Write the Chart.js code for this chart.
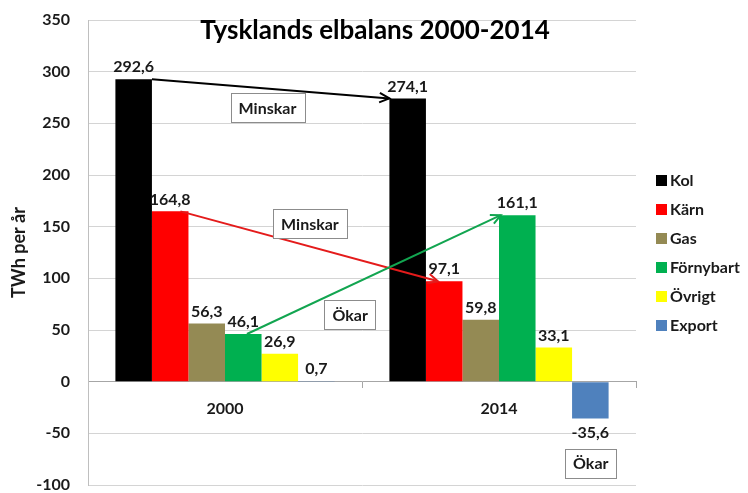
<!DOCTYPE html>
<html>
<head>
<meta charset="utf-8">
<script src="https://cdn.jsdelivr.net/npm/chart.js@4/dist/chart.umd.min.js"></script>
<style>
  html, body { margin: 0; padding: 0; background: #fff; }
  #wrap { width: 748px; height: 493px; }
</style>
</head>
<body>
<div id="wrap"><canvas id="elChart" width="748" height="493"></canvas></div>
<script>
// Data
const years = ['2000', '2014'];
const kol = [292.6, 274.1];
const karn = [164.8, 97.1];
const gas = [56.3, 59.8];
const fornybart = [46.1, 161.1];
const ovrigt = [26.9, 33.1];
const exportVals = [0.7, -35.6];
const seriesNames = ['Kol', 'Kärn', 'Gas', 'Förnybart', 'Övrigt', 'Export'];
const seriesColors = ['#000000', '#FF0000', '#948A54', '#00B050', '#FFFF00', '#4F81BD'];

// Arrows between the two years (dataset index, where on the bar top they start/end)
const arrows = [
    { ds: 0, color: '#000000', fromFrac: 1.0, toFrac: 0.0 },
    { ds: 1, color: '#E41B1B', fromFrac: 0.78, toFrac: 0.33 },
    { ds: 3, color: '#12A550', fromFrac: 0.6, toFrac: 0.05 },
];
// Text boxes (x in category index, y in TWh)
const notes = [
    { text: 'Minskar', x: 0.155, y: 265 },
    { text: 'Minskar', x: 0.31, y: 153 },
    { text: 'Ökar', x: 0.457, y: 65 },
    { text: 'Ökar', x: 1.335, y: -79 },
];

const FONT = 'Lato, "Open Sans", sans-serif';
const fmt = v => v.toFixed(1).replace('.', ',');

const overlay = {
    id: 'overlay',
    afterDatasetsDraw(chart) {
        const ctx = chart.ctx;
        const xs = chart.scales.x, ys = chart.scales.y;
        const ca = chart.chartArea;
        ctx.save();

        // value labels
        ctx.font = 'bold 16px ' + FONT;
        ctx.fillStyle = '#1a1a1a';
        ctx.textAlign = 'center';
        chart.data.datasets.forEach((ds, i) => {
            chart.getDatasetMeta(i).data.forEach((bar, j) => {
                const v = ds.data[j];
                if (v >= 0) {
                    ctx.textBaseline = 'bottom';
                    ctx.fillText(fmt(v), bar.x, bar.y - 4);
                } else {
                    ctx.textBaseline = 'top';
                    ctx.fillText(fmt(v), bar.x, bar.y + 6);
                }
            });
        });

        // arrows
        arrows.forEach(a => {
            const meta = chart.getDatasetMeta(a.ds);
            const b0 = meta.data[0], b1 = meta.data[1];
            const x0 = b0.x - b0.width / 2 + b0.width * a.fromFrac, y0 = b0.y;
            const x1 = b1.x - b1.width / 2 + b1.width * a.toFrac, y1 = b1.y;
            ctx.strokeStyle = a.color;
            ctx.lineWidth = 2;
            ctx.beginPath();
            ctx.moveTo(x0, y0);
            ctx.lineTo(x1, y1);
            ctx.stroke();
            const ang = Math.atan2(y1 - y0, x1 - x0);
            const h = 11;
            ctx.beginPath();
            ctx.moveTo(x1 - h * Math.cos(ang - 0.45), y1 - h * Math.sin(ang - 0.45));
            ctx.lineTo(x1, y1);
            ctx.lineTo(x1 - h * Math.cos(ang + 0.45), y1 - h * Math.sin(ang + 0.45));
            ctx.stroke();
        });

        // note boxes
        ctx.font = 'bold 16px ' + FONT;
        ctx.textBaseline = 'middle';
        notes.forEach(n => {
            const cx = xs.getPixelForValue(n.x), cy = ys.getPixelForValue(n.y);
            const w = ctx.measureText(n.text).width + 16, h = 29;
            ctx.fillStyle = '#ffffff';
            ctx.fillRect(cx - w / 2, cy - h / 2, w, h);
            ctx.strokeStyle = '#8c8c8c';
            ctx.lineWidth = 1;
            ctx.strokeRect(Math.round(cx - w / 2) + 0.5, Math.round(cy - h / 2) + 0.5, Math.round(w), h);
            ctx.fillStyle = '#1a1a1a';
            ctx.fillText(n.text, cx, cy + 1);
        });

        // legend on the right
        const mid = (ca.top + ca.bottom) / 2;
        const n = chart.data.datasets.length;
        ctx.textAlign = 'left';
        ctx.font = 'bold 16px ' + FONT;
        chart.data.datasets.forEach((ds, i) => {
            const y = mid + (i - (n - 1) / 2) * 29;
            ctx.fillStyle = ds.backgroundColor;
            ctx.fillRect(ca.right + 20, y - 5, 11, 11);
            ctx.fillStyle = '#1a1a1a';
            ctx.fillText(ds.label, ca.right + 34, y + 1);
        });

        // title over the plot
        ctx.textAlign = 'center';
        ctx.font = 'bold 26px ' + FONT;
        ctx.fillStyle = '#000000';
        ctx.fillText('Tysklands elbalans 2000-2014', 375, 31);
        ctx.restore();
    }
};

const allSeries = [kol, karn, gas, fornybart, ovrigt, exportVals];

new Chart(document.getElementById('elChart').getContext('2d'), {
    type: 'bar',
    data: {
        labels: years,
        datasets: allSeries.map((d, i) => ({
            label: seriesNames[i],
            data: d,
            backgroundColor: seriesColors[i],
            borderWidth: 0,
            categoryPercentage: 0.8,
            barPercentage: 1.0,
        }))
    },
    options: {
        responsive: false,
        animation: false,
        layout: { padding: { top: 20, bottom: 8, left: 4, right: 112 } },
        plugins: {
            legend: { display: false },
            tooltip: { enabled: false },
            title: { display: false }
        },
        scales: {
            x: {
                position: { y: 0 },
                grid: { display: true, drawOnChartArea: false, drawTicks: true, tickLength: 6, color: '#a6a6a6', offset: true },
                border: { color: '#a6a6a6' },
                ticks: { color: '#1a1a1a', padding: 12, font: { family: FONT, size: 16, weight: 'bold' } }
            },
            y: {
                min: -100,
                max: 350,
                afterFit(scale) { scale.width = 84; },
                ticks: { stepSize: 50, color: '#1a1a1a', padding: 0, font: { family: FONT, size: 16, weight: 'bold', lineHeight: 1.0 } },
                grid: { color: '#d4d4d4', drawTicks: true, tickLength: 18, tickColor: 'rgba(0,0,0,0)' },
                border: { color: '#bfbfbf' },
                title: { display: true, text: 'TWh per år', color: '#1a1a1a', padding: 4, font: { family: FONT, size: 18, weight: 'bold' } }
            }
        }
    },
    plugins: [overlay]
});
</script>
</body>
</html>
